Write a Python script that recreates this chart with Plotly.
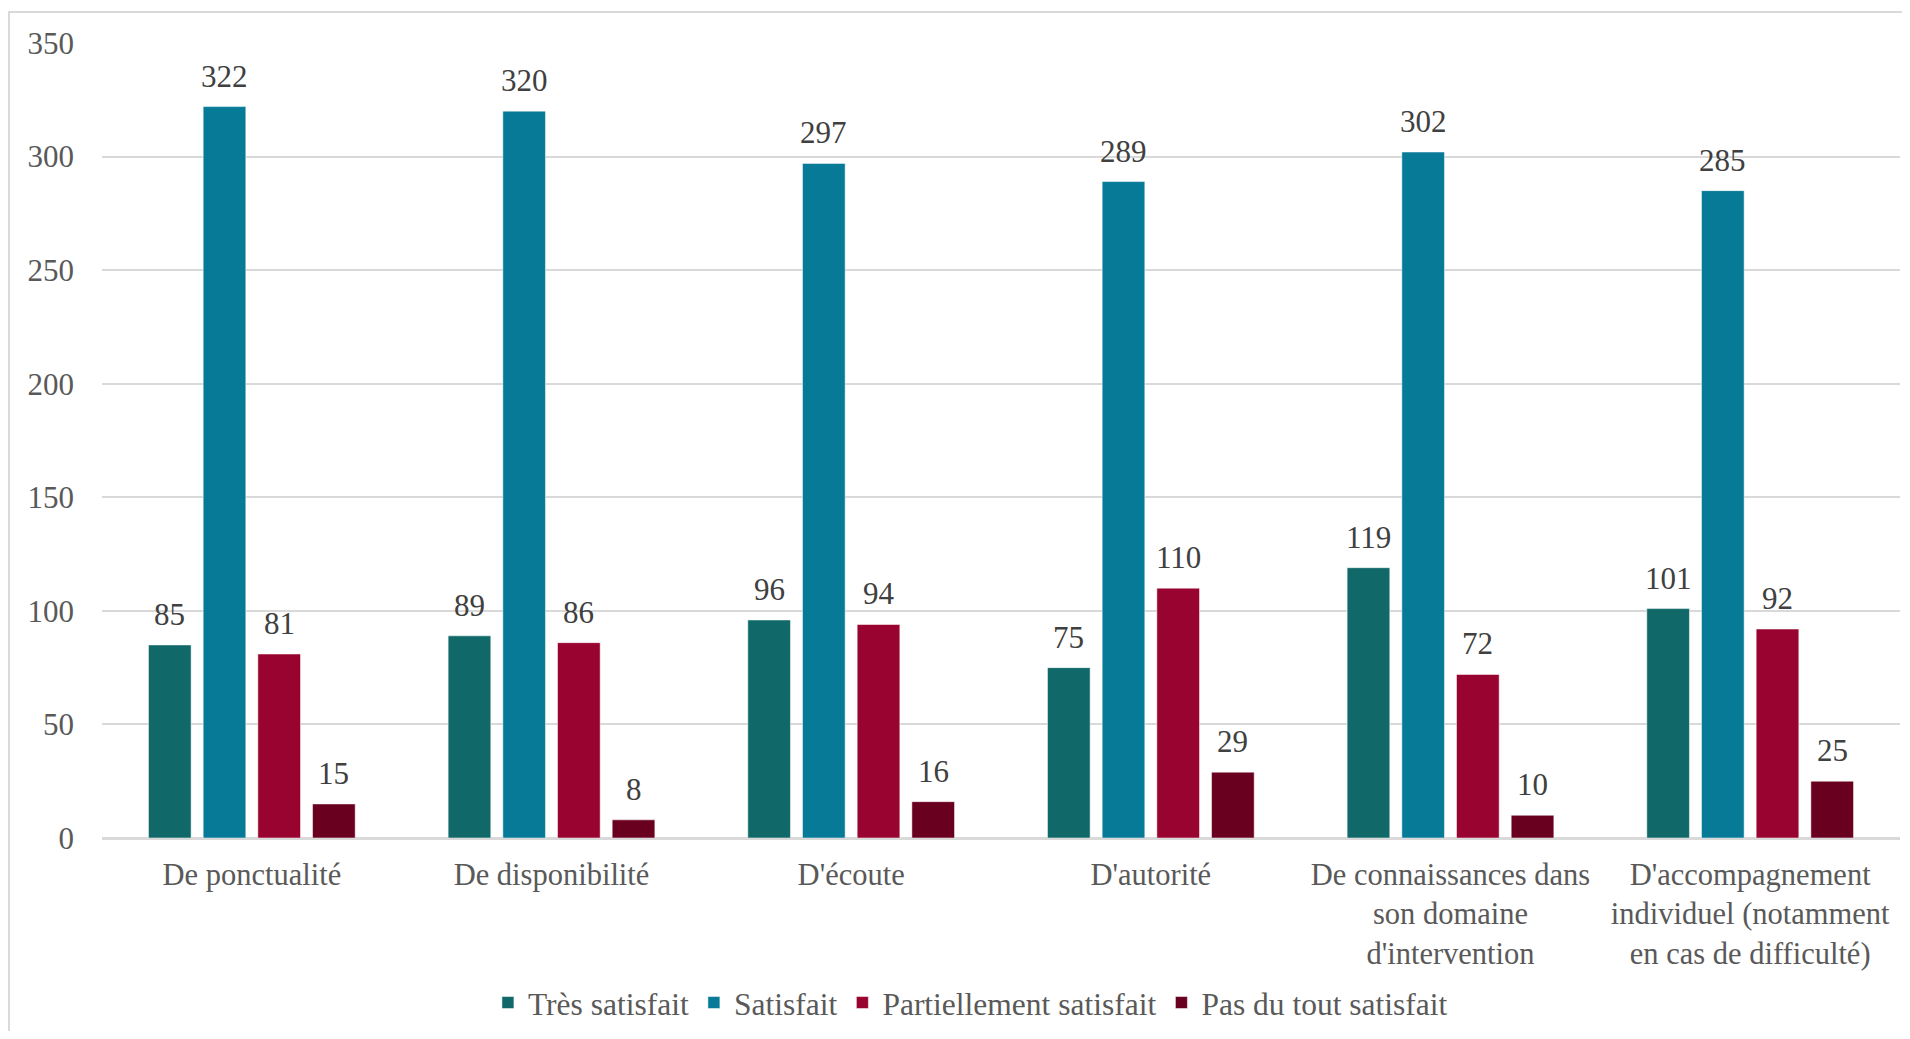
import plotly.graph_objects as go

categories = [
    "De ponctualité",
    "De disponibilité",
    "D'écoute",
    "D'autorité",
    "De connaissances dans<br>son domaine<br>d'intervention",
    "D'accompagnement<br>individuel (notamment<br>en cas de difficulté)",
]
series_names = ["Très satisfait", "Satisfait", "Partiellement satisfait", "Pas du tout satisfait"]
tres_satisfait = [85, 89, 96, 75, 119, 101]
satisfait = [322, 320, 297, 289, 302, 285]
partiellement = [81, 86, 94, 110, 72, 92]
pas_du_tout = [15, 8, 16, 29, 10, 25]
colors = ["#116868", "#067a97", "#98032f", "#6a0020"]
y_ticks = [0, 50, 100, 150, 200, 250, 300, 350]

FONT = "Liberation Serif"
FS = 30.5
FS_NUM = 31
FS_LEG = 31.5
series_values = [tres_satisfait, satisfait, partiellement, pas_du_tout]

BARGAP = 0.27
GROUPGAP = 0.22

fig = go.Figure()
for name, vals, col in zip(series_names, series_values, colors):
    fig.add_trace(go.Bar(
        x=list(range(len(categories))), y=vals, name=name,
        marker=dict(color=col, line=dict(color="rgba(255,255,255,0.5)", width=1)),
        hoverinfo="y",
    ))

# data labels above bars, positioned from data through the axes
n = len(series_values)
slot = (1 - BARGAP) / n
annotations = []
for j, vals in enumerate(series_values):
    for i, v in enumerate(vals):
        annotations.append(dict(
            x=i + (j - (n - 1) / 2) * slot, y=v, xref="x", yref="y",
            text=str(v), showarrow=False, yanchor="bottom", yshift=11,
            font=dict(family=FONT, size=FS_NUM, color="#404040"),
        ))

fig.update_layout(
    width=1894, height=1023,
    margin=dict(l=94, r=2, t=35, b=191),
    paper_bgcolor="white", plot_bgcolor="white",
    barmode="group", bargap=BARGAP, bargroupgap=GROUPGAP,
    font=dict(family=FONT, size=FS, color="#595959"),
    showlegend=True,
    legend=dict(orientation="h", x=0.483, xanchor="center", y=-0.207, yanchor="middle",
                font=dict(family=FONT, size=FS_LEG, color="#595959"),
                itemclick=False, traceorder="normal"),
    annotations=annotations,
    shapes=[dict(type="rect", xref="paper", yref="paper",
                 x0=-0.0517, x1=1.2, y0=-0.5, y1=1.0389,
                 line=dict(color="#d9d9d9", width=2), fillcolor="rgba(0,0,0,0)", layer="below")],
)
fig.update_xaxes(
    tickmode="array", tickvals=list(range(len(categories))), ticktext=categories,
    range=[-0.5, len(categories) - 0.5],
    showgrid=False, showline=True, linecolor="#d9d9d9", linewidth=2,
    ticks="", ticklabelstandoff=8,
    tickfont=dict(family=FONT, size=FS, color="#595959"),
)
fig.update_yaxes(
    range=[0, 350], tickvals=y_ticks, showgrid=True, gridcolor="#d9d9d9", gridwidth=2,
    zeroline=True, zerolinecolor="#d9d9d9", zerolinewidth=2,
    showline=False, ticks="", ticklabelstandoff=27,
    tickfont=dict(family=FONT, size=FS_NUM, color="#595959"),
)
fig.write_html("out.html")
